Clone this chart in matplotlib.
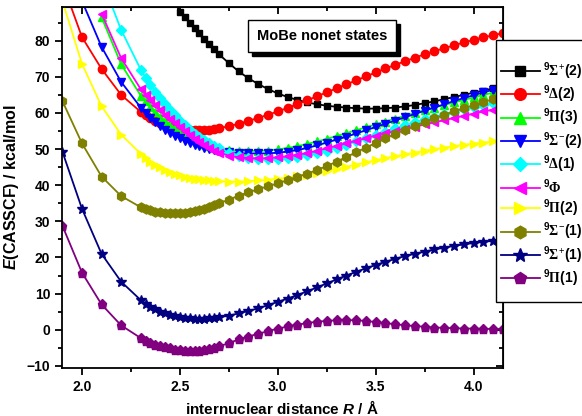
import matplotlib
matplotlib.use("Agg")
import matplotlib.pyplot as plt
import matplotlib.patches as mpatches
import matplotlib.transforms as mtransforms
from matplotlib.ticker import MultipleLocator
import numpy as np

nan = np.nan

# internuclear distance grid (Angstrom)
R = [1.9, 2.0, 2.1, 2.2,
     2.3, 2.325, 2.35, 2.375, 2.4, 2.425, 2.45, 2.475, 2.5, 2.525, 2.55, 2.575, 2.6, 2.625, 2.65, 2.675, 2.7,
     2.75, 2.8, 2.85, 2.9, 2.95, 3.0, 3.05, 3.1, 3.15, 3.2, 3.25, 3.3, 3.35, 3.4, 3.45, 3.5, 3.55, 3.6,
     3.65, 3.7, 3.75, 3.8, 3.85, 3.9, 3.95, 4.0, 4.05, 4.1, 4.15]

# E(CASSCF) in kcal/mol
sig_plus_2 = [nan, nan, nan, nan,
              nan, nan, nan, nan, nan, nan, nan, 90.5, 88.0, 86.6, 85.0, 83.5, 82.0, 80.5, 79.0, 77.6, 76.2,
              73.8, 71.5, 69.6, 68.0, 66.6, 65.4, 64.4, 63.6, 62.9, 62.4, 62.0, 61.7, 61.5, 61.3, 61.2, 61.2, 61.3, 61.5,
              61.8, 62.2, 62.7, 63.2, 63.8, 64.4, 65.0, 65.6, 66.2, 66.8, 67.3]
delta_2 = [96.0, 81.0, 72.2, 65.0,
           60.3, 59.3, 58.5, 57.8, 57.2, 56.7, 56.3, 56.0, 55.7, 55.5, 55.4, 55.3, 55.3, 55.3, 55.4, 55.6, 55.8,
           56.3, 57.0, 57.8, 58.6, 59.5, 60.4, 61.4, 62.4, 63.5, 64.6, 65.7, 66.8, 67.9, 69.0, 70.1, 71.2, 72.3, 73.3,
           74.3, 75.3, 76.2, 77.1, 77.9, 78.7, 79.5, 80.2, 80.9, 81.5, 82.1]
pi_3 = [nan, nan, 86.5, 73.5,
        64.8, 63.2, 61.7, 60.3, 59.0, 57.8, 56.7, 55.7, 54.8, 54.0, 53.2, 52.5, 51.9, 51.4, 50.9, 50.5, 50.2,
        49.8, 49.6, 49.5, 49.5, 49.6, 49.9, 50.3, 50.8, 51.4, 52.1, 52.8, 53.6, 54.4, 55.2, 56.0, 56.8, 57.6, 58.4,
        59.2, 60.0, 60.8, 61.5, 62.2, 62.9, 63.6, 64.3, 65.0, 65.6, 66.2]
sig_minus_2 = [nan, 91.0, 78.3, 68.6,
               61.5, 60.0, 58.7, 57.5, 56.4, 55.4, 54.5, 53.7, 53.0, 52.3, 51.7, 51.2, 50.8, 50.4, 50.1, 49.8, 49.6,
               49.2, 48.9, 48.8, 48.8, 48.8, 49.0, 49.3, 49.7, 50.3, 51.0, 51.8, 52.6, 53.4, 54.3, 55.2, 56.1, 57.0, 57.9,
               58.8, 59.7, 60.6, 61.5, 62.4, 63.3, 64.1, 64.9, 65.7, 66.4, 67.1]
delta_1 = [nan, nan, 97.0, 83.0,
           72.0, 69.8, 67.8, 65.9, 64.1, 62.4, 60.8, 59.3, 57.9, 56.6, 55.4, 54.3, 53.3, 52.4, 51.6, 50.9, 50.3,
           49.0, 48.2, 47.6, 47.3, 47.2, 47.3, 47.5, 47.8, 48.3, 48.9, 49.6, 50.4, 51.2, 52.1, 53.0, 53.9, 54.8, 55.7,
           56.6, 57.4, 58.2, 58.9, 59.6, 60.3, 61.0, 61.6, 62.2, 62.8, 63.3]
phi = [nan, nan, 87.5, 75.2,
       66.6, 65.0, 63.5, 62.1, 60.8, 59.5, 58.3, 57.1, 56.0, 54.9, 53.9, 52.9, 52.0, 51.1, 50.3, 49.6, 49.0,
       48.2, 47.7, 47.5, 47.4, 47.5, 47.7, 48.0, 48.4, 48.9, 49.5, 50.2, 50.9, 51.6, 52.3, 53.0, 53.7, 54.4, 55.0,
       55.6, 56.2, 56.8, 57.4, 58.0, 58.6, 59.2, 59.8, 60.4, 60.9, 61.4]
pi_2 = [91.0, 73.6, 61.9, 54.0,
        48.7, 47.5, 46.5, 45.6, 44.9, 44.2, 43.6, 43.1, 42.7, 42.3, 42.0, 41.8, 41.6, 41.4, 41.3, 41.2, 41.1,
        41.0, 41.0, 41.1, 41.3, 41.5, 41.8, 42.1, 42.5, 42.9, 43.4, 43.9, 44.5, 45.1, 45.7, 46.3, 46.9, 47.5, 48.0,
        48.5, 49.0, 49.5, 50.0, 50.4, 50.8, 51.2, 51.5, 51.8, 52.1, 52.4]
sig_minus_1 = [63.3, 51.6, 42.4, 37.0,
               33.9, 33.4, 33.0, 32.7, 32.5, 32.4, 32.3, 32.3, 32.3, 32.4, 32.6, 32.8, 33.1, 33.5, 33.9, 34.4, 35.0,
               36.0, 37.1, 38.0, 38.9, 39.7, 40.5, 41.4, 42.3, 43.2, 44.2, 45.3, 46.5, 47.8, 49.1, 50.4, 51.7, 53.0, 54.2,
               55.3, 56.4, 57.5, 58.5, 59.5, 60.4, 61.3, 62.2, 63.0, 63.8, 64.6]
sig_plus_1 = [49.3, 33.5, 21.0, 13.3,
              8.2, 7.2, 6.3, 5.6, 5.0, 4.5, 4.0, 3.7, 3.4, 3.2, 3.1, 3.0, 3.0, 3.0, 3.1, 3.2, 3.4,
              3.9, 4.5, 5.2, 5.9, 6.8, 7.7, 8.6, 9.6, 10.6, 11.7, 12.8, 13.9, 15.0, 16.0, 17.0, 17.9, 18.8, 19.6,
              20.4, 21.0, 21.6, 22.2, 22.7, 23.2, 23.6, 24.0, 24.3, 24.6, 24.9]
pi_1 = [28.8, 15.8, 7.0, 1.2,
        -2.3, -3.0, -3.6, -4.1, -4.5, -4.9, -5.2, -5.5, -5.7, -5.8, -5.9, -5.9, -5.8, -5.6, -5.3, -5.0, -4.6,
        -3.7, -2.7, -1.9, -1.1, -0.4, 0.3, 0.9, 1.4, 1.8, 2.2, 2.4, 2.6, 2.6, 2.6, 2.4, 2.1, 1.8, 1.5,
        1.2, 1.0, 0.8, 0.6, 0.5, 0.4, 0.3, 0.3, 0.2, 0.2, 0.2]

labels = [r"$^{\mathbf{9}}\Sigma^{+}$(2)", r"$^{\mathbf{9}}\Delta$(2)", r"$^{\mathbf{9}}\Pi$(3)",
          r"$^{\mathbf{9}}\Sigma^{-}$(2)", r"$^{\mathbf{9}}\Delta$(1)", r"$^{\mathbf{9}}\Phi$",
          r"$^{\mathbf{9}}\Pi$(2)", r"$^{\mathbf{9}}\Sigma^{-}$(1)", r"$^{\mathbf{9}}\Sigma^{+}$(1)",
          r"$^{\mathbf{9}}\Pi$(1)"]
series = [sig_plus_2, delta_2, pi_3, sig_minus_2, delta_1, phi, pi_2, sig_minus_1, sig_plus_1, pi_1]
colors = ["#000000", "#ff0000", "#00ff00", "#0000ff", "#00ffff", "#ff00ff", "#ffff00", "#808000", "#000080", "#800080"]
markers = ["s", "o", "^", "v", "D", "<", ">", "h", "*", "p"]
msizes = [5, 6, 6, 6, 5, 6, 6, 6.5, 7.5, 6.5]

plt.rcParams["font.family"] = ["Liberation Sans", "DejaVu Sans"]
plt.rcParams["font.weight"] = "bold"
plt.rcParams["mathtext.fontset"] = "custom"
plt.rcParams["mathtext.rm"] = "Liberation Serif"
plt.rcParams["mathtext.it"] = "Liberation Sans:italic:bold"
plt.rcParams["mathtext.bf"] = "Liberation Sans:bold"

fig = plt.figure(figsize=(5.82, 4.16), dpi=100)
ax = fig.add_axes([0.1065, 0.1154, 0.7577, 0.8676])

handles = []
for E, c, m, ms, lab in zip(series, colors, markers, msizes, labels):
    h, = ax.plot(R, E, color=c, marker=m, ms=ms, mec=c, lw=1.3, label=lab)
    handles.append(h)

ax.set_xlim(1.898, 4.15)
ax.set_ylim(-10.6, 89.3)
ax.xaxis.set_major_locator(MultipleLocator(0.5))
ax.xaxis.set_minor_locator(MultipleLocator(0.25))
ax.yaxis.set_major_locator(MultipleLocator(10))
ax.yaxis.set_minor_locator(MultipleLocator(5))
ax.tick_params(which="both", direction="out", width=1.3, labelsize=10)
ax.tick_params(which="major", length=5)
ax.tick_params(which="minor", length=3)
for lab in ax.get_xticklabels() + ax.get_yticklabels():
    lab.set_fontweight("bold")
for sp in ax.spines.values():
    sp.set_linewidth(1.3)

# inward ticks on top / right
secx = ax.secondary_xaxis("top")
secx.xaxis.set_major_locator(MultipleLocator(0.5))
secx.xaxis.set_minor_locator(MultipleLocator(0.25))
secx.tick_params(which="both", direction="in", labeltop=False, width=1.3)
secx.tick_params(which="major", length=5)
secx.tick_params(which="minor", length=3)
secy = ax.secondary_yaxis("right")
secy.yaxis.set_major_locator(MultipleLocator(10))
secy.yaxis.set_minor_locator(MultipleLocator(5))
secy.tick_params(which="both", direction="in", labelright=False, width=1.3)
secy.tick_params(which="major", length=5)
secy.tick_params(which="minor", length=3)

ax.set_xlabel(r"internuclear distance $\mathit{R}$ / Å", fontsize=11, fontweight="bold")
ax.set_ylabel(r"$\mathit{E}$(CASSCF) / kcal/mol", fontsize=11.5, fontweight="bold")

# legend frame (runs off the right edge like the original) + legend entries
W, H = 582.0, 416.0
frame = mpatches.Rectangle((496 / W, 1 - 302 / H), 0.3, (302 - 40) / H, transform=fig.transFigure,
                           fc="white", ec="black", lw=1.0, zorder=3)
fig.add_artist(frame)
leg = fig.legend(handles, labels, loc="upper left", bbox_to_anchor=(501 / W, 1 - 60 / H),
                 frameon=False, markerscale=1.4, handlelength=2.8, handletextpad=0.2,
                 labelspacing=0.13, borderpad=0, borderaxespad=0,
                 prop={"size": 10, "weight": "bold"})
leg.set_zorder(4)

# title box with drop shadow
t = ax.text(0.59, 0.92, "MoBe nonet states", transform=ax.transAxes, ha="center", va="center",
            fontsize=10.5, fontweight="bold", color="black",
            bbox=dict(boxstyle="square,pad=0.6", fc="white", ec="black", lw=1.0), zorder=7)
fig.canvas.draw()
bb = t.get_bbox_patch().get_window_extent()
shadow = mpatches.Rectangle((bb.x0 + 4, bb.y0 - 4), bb.width, bb.height,
                            transform=mtransforms.IdentityTransform(), fc="black", ec="black",
                            zorder=6, clip_on=False)
ax.add_artist(shadow)

fig.savefig("out.png", dpi=100)
